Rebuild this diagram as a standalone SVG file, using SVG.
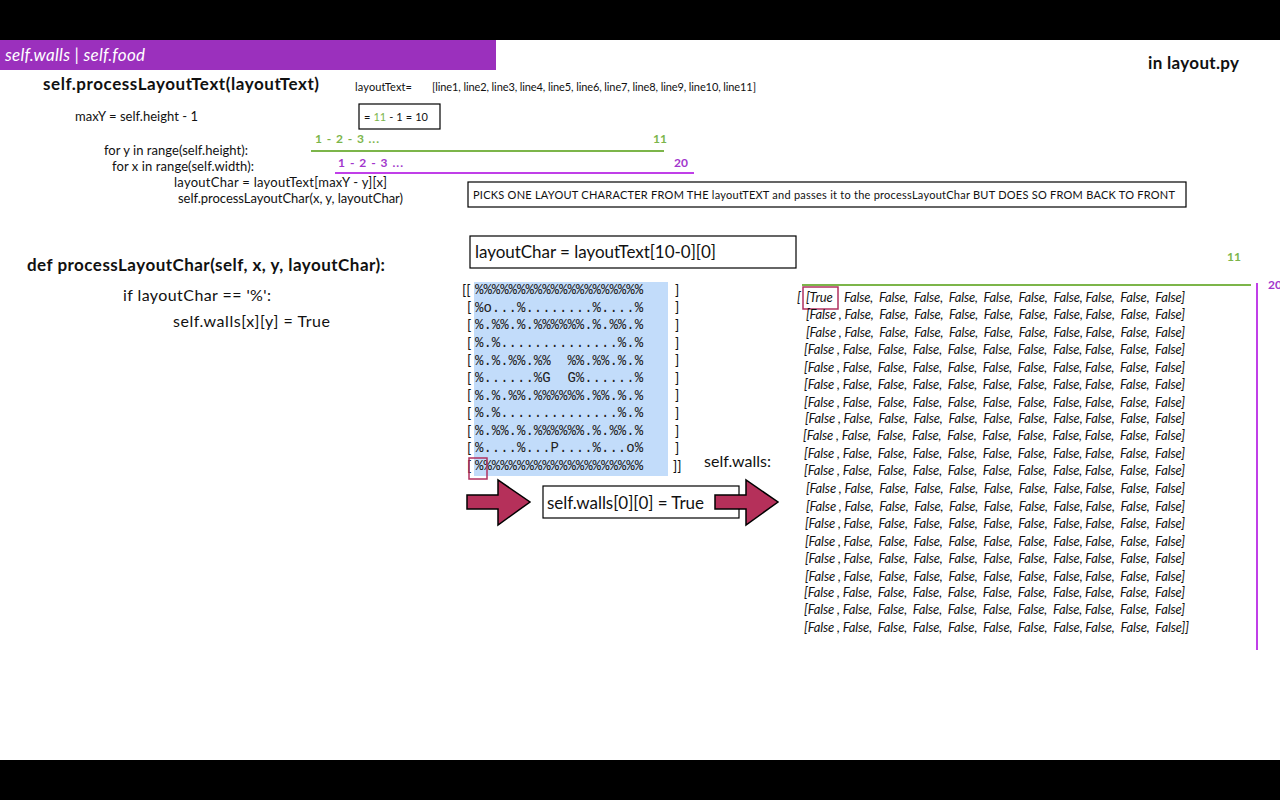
<svg xmlns="http://www.w3.org/2000/svg" width="1280" height="800" viewBox="0 0 1280 800">
<style>
.t{font-family:Lato,"Open Sans","DejaVu Sans",sans-serif;fill:#111}
.b{font-weight:bold}
.i{font-style:italic}
.m{font-family:"Liberation Mono","DejaVu Sans Mono",monospace;font-size:14px;fill:#222}
.g{fill:#7cb54a;font-weight:bold}
.p{fill:#a236cc;font-weight:bold}
.box{fill:#fff;stroke:#000;stroke-width:1.2}
.arrow{fill:#b5305a;stroke:#000;stroke-width:1.5}
.w{font-size:13px}
</style>
<rect x="0" y="0" width="1280" height="800" fill="#fff"/>
<rect x="0" y="0" width="1280" height="40" fill="#000"/>
<rect x="0" y="760" width="1280" height="40" fill="#000"/>

<g id="header">
<rect x="0" y="40" width="496" height="30" fill="#9b30bd"/>
<text class="t i" x="5" y="61" font-size="17" style="fill:#fff" textLength="140">self.walls | self.food</text>
</g>
<g id="file"><text class="t b" x="1148" y="69" font-size="17" textLength="91">in layout.py</text></g>

<g id="code1">
<text class="t b" x="43" y="90" font-size="17" textLength="276">self.processLayoutText(layoutText)</text>
<text class="t" x="75" y="121" font-size="13" textLength="123">maxY = self.height - 1</text>
<text class="t" x="104" y="155" font-size="13" textLength="144">for y in range(self.height):</text>
<text class="t" x="112" y="171" font-size="13" textLength="142">for x in range(self.width):</text>
<text class="t" x="174" y="187" font-size="13" textLength="213">layoutChar = layoutText[maxY - y][x]</text>
<text class="t" x="178" y="203" font-size="13" textLength="225">self.processLayoutChar(x, y, layoutChar)</text>
</g>

<g id="layoutText">
<text class="t" x="355" y="91" font-size="11" textLength="57">layoutText=</text>
<text class="t" x="432" y="91" font-size="11" textLength="324">[line1, line2, line3, line4, line5, line6,  line7, line8, line9, line10, line11]</text>
</g>

<g id="maxYbox">
<rect class="box" x="359" y="104" width="81" height="25"/>
<text class="t" x="364" y="121" font-size="11" textLength="64">= <tspan style="fill:#7cb54a">11</tspan> - 1 = 10</text>
</g>

<g id="ranges">
<text class="t g" x="315" y="143" font-size="12" textLength="64">1 - 2  - 3 ...</text>
<text class="t g" x="653" y="143" font-size="12">11</text>
<line x1="311" y1="151" x2="664" y2="151" stroke="#7cb54a" stroke-width="2"/>
<text class="t p" x="338" y="167" font-size="12" textLength="65">1 - 2  - 3 ...</text>
<text class="t p" x="674" y="167" font-size="12">20</text>
<line x1="335" y1="173" x2="694" y2="173" stroke="#c03fe8" stroke-width="2"/>
</g>

<g id="picks">
<rect class="box" x="468" y="182" width="718" height="25"/>
<text class="t" x="473" y="199" font-size="11" textLength="702">PICKS ONE LAYOUT CHARACTER FROM THE layoutTEXT and passes it to the processLayoutChar BUT DOES SO FROM BACK TO FRONT</text>
</g>

<g id="layoutCharBox">
<rect class="box" x="470" y="236" width="326" height="32"/>
<text class="t" x="475" y="258" font-size="17" textLength="241">layoutChar = layoutText[10-0][0]</text>
</g>

<g id="code2">
<text class="t b" x="27" y="271" font-size="17" textLength="358">def processLayoutChar(self, x, y, layoutChar):</text>
<text class="t" x="123" y="301" font-size="16" textLength="148">if layoutChar == '%':</text>
<text class="t" x="173" y="327" font-size="16" textLength="157">self.walls[x][y] = True</text>
</g>

<g id="grid">
<rect x="474" y="282" width="194" height="194" fill="#c2dcfa"/>
<text class="m" x="475" y="294">%%%%%%%%%%%%%%%%%%%%</text>
<text class="m" x="475" y="312">%o...%........%....%</text>
<text class="m" x="475" y="329">%.%%.%.%%%%%%.%.%%.%</text>
<text class="m" x="475" y="347">%.%..............%.%</text>
<text class="m" x="475" y="365">%.%.%%.%%&#160;&#160;%%.%%.%.%</text>
<text class="m" x="475" y="382">%......%G&#160;&#160;G%......%</text>
<text class="m" x="475" y="400">%.%.%%.%%%%%%.%%.%.%</text>
<text class="m" x="475" y="417">%.%..............%.%</text>
<text class="m" x="475" y="435">%.%%.%.%%%%%%.%.%%.%</text>
<text class="m" x="475" y="452">%....%...P....%...o%</text>
<text class="m" x="475" y="470">%%%%%%%%%%%%%%%%%%%%</text>
<g class="t" font-size="14">
<text x="462" y="295">[[</text>
<text x="467" y="312">[</text><text x="467" y="330">[</text><text x="467" y="348">[</text><text x="467" y="365">[</text><text x="467" y="383">[</text><text x="467" y="400">[</text><text x="467" y="418">[</text><text x="467" y="436">[</text><text x="467" y="453">[</text><text x="467" y="471">[</text>
<text x="675" y="295">]</text><text x="675" y="312">]</text><text x="675" y="330">]</text><text x="675" y="348">]</text><text x="675" y="365">]</text><text x="675" y="383">]</text><text x="675" y="400">]</text><text x="675" y="418">]</text><text x="675" y="436">]</text><text x="675" y="453">]</text>
<text x="673" y="471">]]</text>
</g>
<rect x="469" y="458" width="18" height="21" fill="none" stroke="#b03060" stroke-width="1.5"/>
</g>

<g id="wallsLabel"><text class="t" x="704" y="467" font-size="16" textLength="67">self.walls:</text></g>

<g id="assignBox">
<rect class="box" x="543" y="486" width="196" height="32"/>
<text class="t" x="547" y="509" font-size="17" textLength="157">self.walls[0][0] = True</text>
</g>

<g id="connectors">
<polygon class="arrow" points="467,495 498,495 498,480 530,502 498,525 498,509 467,509"/>
<polygon class="arrow" points="715,495 746,495 746,480 778,502 746,525 746,509 715,509"/>
</g>

<g id="wallsList">
<line x1="802" y1="285" x2="1251" y2="285" stroke="#7cb54a" stroke-width="2"/>
<text class="t g" x="1227" y="261" font-size="12">11</text>
<line x1="1257" y1="283" x2="1257" y2="650" stroke="#c03fe8" stroke-width="2"/>
<text class="t p" x="1268" y="289" font-size="12">20</text>
<rect x="803" y="287" width="35" height="22" fill="none" stroke="#b03060" stroke-width="1.5"/>
<g class="t i w">
<text x="797" y="302">[</text>
<text x="806" y="302" textLength="379">[True&#160;&#160;&#160; False,&#160; False,&#160; False,&#160; False,&#160; False,&#160; False,&#160; False, False,&#160; False,&#160; False]</text>
<text x="806" y="319" textLength="379">[False , False,&#160; False,&#160; False,&#160; False,&#160; False,&#160; False,&#160; False, False,&#160; False,&#160; False]</text>
<text x="806" y="337" textLength="379">[False , False,&#160; False,&#160; False,&#160; False,&#160; False,&#160; False,&#160; False, False,&#160; False,&#160; False]</text>
<text x="804" y="354" textLength="381">[False , False,&#160; False,&#160; False,&#160; False,&#160; False,&#160; False,&#160; False, False,&#160; False,&#160; False]</text>
<text x="804" y="372" textLength="381">[False , False,&#160; False,&#160; False,&#160; False,&#160; False,&#160; False,&#160; False, False,&#160; False,&#160; False]</text>
<text x="804" y="389" textLength="381">[False , False,&#160; False,&#160; False,&#160; False,&#160; False,&#160; False,&#160; False, False,&#160; False,&#160; False]</text>
<text x="804" y="407" textLength="381">[False , False,&#160; False,&#160; False,&#160; False,&#160; False,&#160; False,&#160; False, False,&#160; False,&#160; False]</text>
<text x="805" y="423" textLength="380">[False , False,&#160; False,&#160; False,&#160; False,&#160; False,&#160; False,&#160; False, False,&#160; False,&#160; False]</text>
<text x="803" y="440" textLength="382">[False , False,&#160; False,&#160; False,&#160; False,&#160; False,&#160; False,&#160; False, False,&#160; False,&#160; False]</text>
<text x="804" y="458" textLength="381">[False , False,&#160; False,&#160; False,&#160; False,&#160; False,&#160; False,&#160; False, False,&#160; False,&#160; False]</text>
<text x="804" y="475" textLength="381">[False , False,&#160; False,&#160; False,&#160; False,&#160; False,&#160; False,&#160; False, False,&#160; False,&#160; False]</text>
<text x="806" y="493" textLength="379">[False , False,&#160; False,&#160; False,&#160; False,&#160; False,&#160; False,&#160; False, False,&#160; False,&#160; False]</text>
<text x="806" y="511" textLength="379">[False , False,&#160; False,&#160; False,&#160; False,&#160; False,&#160; False,&#160; False, False,&#160; False,&#160; False]</text>
<text x="805" y="528" textLength="380">[False , False,&#160; False,&#160; False,&#160; False,&#160; False,&#160; False,&#160; False, False,&#160; False,&#160; False]</text>
<text x="805" y="546" textLength="380">[False , False,&#160; False,&#160; False,&#160; False,&#160; False,&#160; False,&#160; False, False,&#160; False,&#160; False]</text>
<text x="805" y="563" textLength="380">[False , False,&#160; False,&#160; False,&#160; False,&#160; False,&#160; False,&#160; False, False,&#160; False,&#160; False]</text>
<text x="805" y="581" textLength="380">[False , False,&#160; False,&#160; False,&#160; False,&#160; False,&#160; False,&#160; False, False,&#160; False,&#160; False]</text>
<text x="804" y="597" textLength="381">[False , False,&#160; False,&#160; False,&#160; False,&#160; False,&#160; False,&#160; False, False,&#160; False,&#160; False]</text>
<text x="804" y="614" textLength="381">[False , False,&#160; False,&#160; False,&#160; False,&#160; False,&#160; False,&#160; False, False,&#160; False,&#160; False]</text>
<text x="804" y="632" textLength="385">[False , False,&#160; False,&#160; False,&#160; False,&#160; False,&#160; False,&#160; False, False,&#160; False,&#160; False]]</text>
</g>
</g>
</svg>
